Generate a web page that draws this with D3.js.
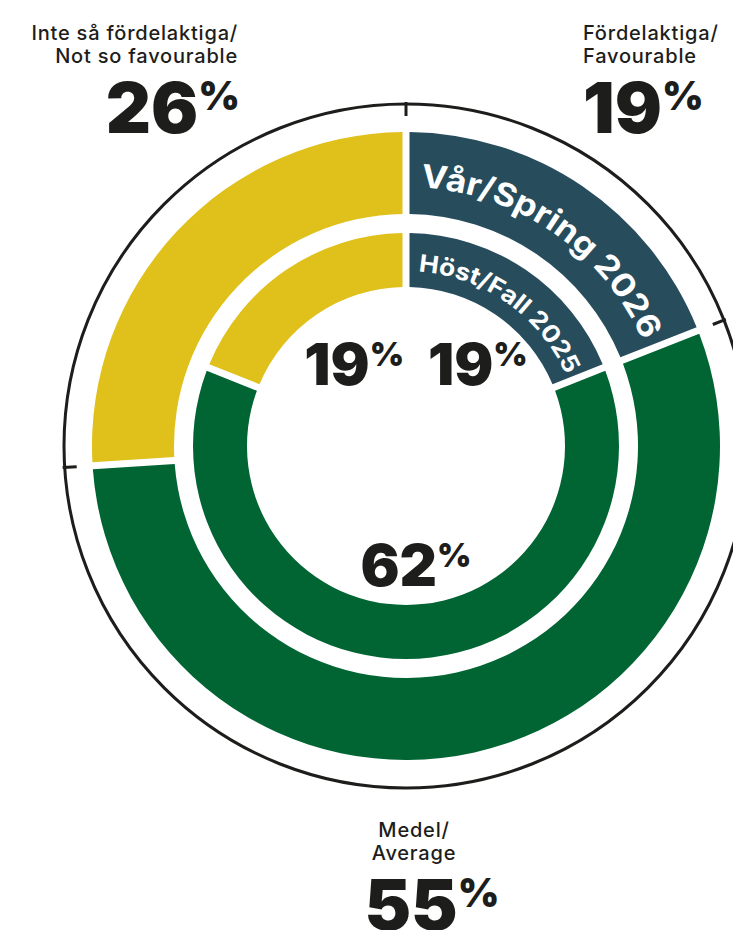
<!DOCTYPE html>
<html>

<head>
  <meta charset="utf-8">
  <title>Spring 2026 vs Fall 2025</title>
  <script src="https://cdn.jsdelivr.net/npm/d3@7"></script>
  <style type="text/css">
    body {
      margin: 0;
      background: #fff;
    }

    text {
      font-family: Inter, "Open Sans", sans-serif;
      fill: #1d1d1b;
    }

    .label {
      font-weight: 500;
      letter-spacing: 0.8px;
    }
  </style>
</head>

<body>
  <div id="chartArea"></div>
  <script type="text/javascript">
    // data
    let categories = ['Fördelaktiga/Favourable', 'Medel/Average', 'Inte så fördelaktiga/Not so favourable'];
    let spring2026 = [19, 55, 26];
    let fall2025 = [19, 62, 19];
    let ringTitles = ['Vår/Spring 2026', 'Höst/Fall 2025'];

    let colors = ['#274d5d', '#016533', '#e0c01a'];

    let w = 733, h = 930;
    let cx = 406, cy = 446;

    let svg = d3.select('#chartArea').append('svg')
      .attr('width', w)
      .attr('height', h);

    let g = svg.append('g')
      .attr('transform', `translate(${cx}, ${cy})`);

    let pie = d3.pie().sort(null).value(d => d);

    let outerArc = d3.arc().innerRadius(232).outerRadius(314).padRadius(300).padAngle(7 / 300);
    let innerArc = d3.arc().innerRadius(159).outerRadius(213).padRadius(300).padAngle(7 / 300);

    let outerData = pie(spring2026);
    let innerData = pie(fall2025);

    // outline circle with ticks at the spring boundaries
    g.append('circle')
      .attr('r', 342)
      .attr('fill', 'none')
      .attr('stroke', '#1d1d1b')
      .attr('stroke-width', 3);

    g.selectAll('line.tick')
      .data(outerData)
      .enter()
      .append('line')
      .attr('class', 'tick')
      .attr('x1', d => Math.sin(d.startAngle) * 330)
      .attr('y1', d => -Math.cos(d.startAngle) * 330)
      .attr('x2', d => Math.sin(d.startAngle) * 344)
      .attr('y2', d => -Math.cos(d.startAngle) * 344)
      .attr('stroke', '#1d1d1b')
      .attr('stroke-width', 3);

    g.selectAll('path.outer')
      .data(outerData)
      .enter()
      .append('path')
      .attr('class', 'outer')
      .attr('d', outerArc)
      .attr('fill', (d, i) => colors[i]);

    g.selectAll('path.inner')
      .data(innerData)
      .enter()
      .append('path')
      .attr('class', 'inner')
      .attr('d', innerArc)
      .attr('fill', (d, i) => colors[i]);

    // curved ring titles inside the first segment
    let deg = Math.PI / 180;
    let titleSpecs = [
      { r: 259, a0: 3.2 * deg, a1: 66 * deg, size: 32, text: ringTitles[0] },
      { r: 175, a0: 4 * deg, a1: 66 * deg, size: 24, text: ringTitles[1] }
    ];

    titleSpecs.forEach((t, i) => {
      let p = d3.path();
      p.arc(0, 0, t.r, t.a0 - Math.PI / 2, t.a1 - Math.PI / 2 + 0.2);
      g.append('path')
        .attr('id', 'titlePath' + i)
        .attr('d', p.toString())
        .attr('fill', 'none');
      g.append('text')
        .style('font-size', t.size + 'px')
        .style('font-weight', 700)
        .style('fill', '#fff')
        .append('textPath')
        .attr('href', '#titlePath' + i)
        .attr('textLength', t.r * (t.a1 - t.a0))
        .attr('lengthAdjust', 'spacingAndGlyphs')
        .text(t.text);
    });

    // percentage with superscript % sign
    function bigValue(sel, value, size) {
      sel.append('tspan')
        .style('font-size', size + 'px')
        .text(value);
      sel.append('tspan')
        .style('font-size', Math.round(size * 0.57) + 'px')
        .attr('dy', -size * 0.33)
        .text('%');
    }

    // fall values inside the hole
    innerData.forEach((d, i) => {
      let mid = (d.startAngle + d.endAngle) / 2;
      let t = g.append('text')
        .attr('x', Math.sin(mid) * 110 + 10)
        .attr('y', -Math.cos(mid) * 110 + 30)
        .attr('text-anchor', 'middle')
        .style('font-weight', 900);
      bigValue(t, fall2025[i], 58);
    });

    // spring labels outside the ring
    let outerLabels = [
      { x: 583, y: 40, anchor: 'start' },
      { x: 414, y: 837, anchor: 'middle' },
      { x: 238, y: 40, anchor: 'end' }
    ];

    outerLabels.forEach((p, i) => {
      let lines = categories[i].split('/');
      let t = svg.append('text')
        .attr('class', 'label')
        .attr('text-anchor', p.anchor)
        .style('font-size', '20px');
      t.append('tspan').attr('x', p.x).attr('y', p.y).text(lines[0] + '/');
      t.append('tspan').attr('x', p.x).attr('y', p.y + 23).text(lines[1]);

      let v = svg.append('text')
        .attr('x', i === 1 ? p.x + 18 : p.x + (p.anchor === 'end' ? 2 : 0))
        .attr('y', p.y + 93)
        .attr('text-anchor', p.anchor)
        .style('font-weight', 900);
      bigValue(v, spring2026[i], 70);
    });
  </script>
</body>

</html>
